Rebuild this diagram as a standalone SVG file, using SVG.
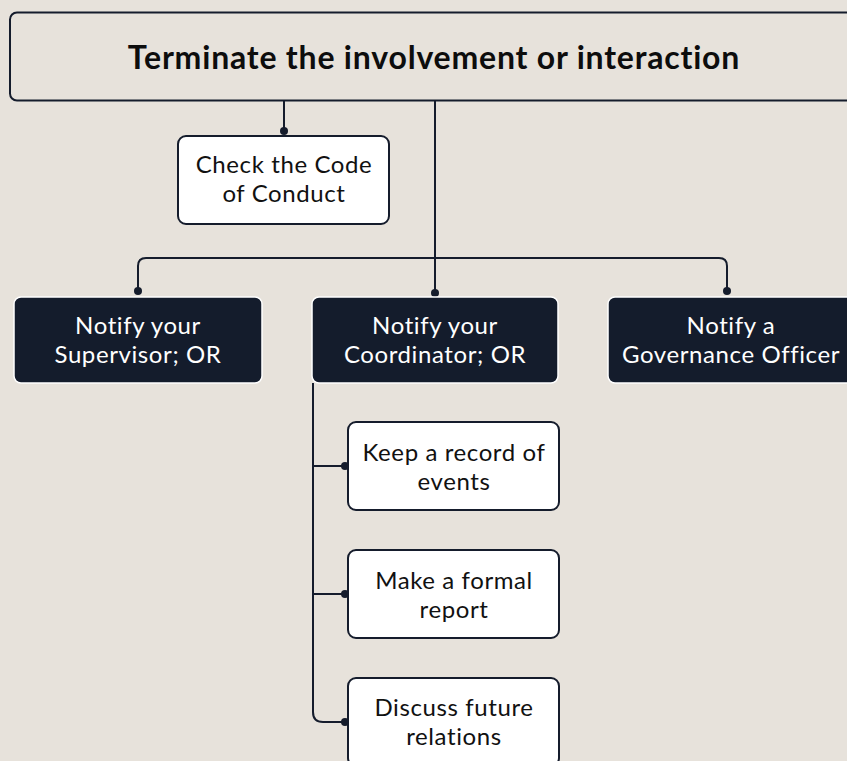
<svg xmlns="http://www.w3.org/2000/svg" width="847" height="761" viewBox="0 0 847 761">
<style>
.bg{fill:#e7e2db}
.light{fill:#ffffff;stroke:#151c2c;stroke-width:2}
.dark{fill:#141c2c;stroke:#ffffff;stroke-width:1.5}
.title{fill:none;stroke:#151c2c;stroke-width:2}
.t{font-family:Lato,"Open Sans",sans-serif;font-size:24px;letter-spacing:0.6px;text-anchor:middle;fill:#111111}
.tw{font-family:Lato,"Open Sans",sans-serif;font-size:24px;letter-spacing:0.6px;text-anchor:middle;fill:#ffffff}
.th{font-family:Lato,"Open Sans",sans-serif;font-size:32px;font-weight:700;letter-spacing:0.8px;text-anchor:middle;fill:#0d0d0d}
.c{fill:none;stroke:#151c2c;stroke-width:2}
.d{fill:#151c2c}
</style>
<rect class="bg" x="0" y="0" width="847" height="761"/>
<g id="connectors">
<path class="c" d="M284,101 V131"/>
<path class="c" d="M435,101 V293"/>
<path class="c" d="M138,291 V266 Q138,258 146,258 H719 Q727,258 727,266 V291"/>
<path class="c" d="M313,383 V712 Q313,722 323,722 H345"/>
<path class="c" d="M313,466 H345"/>
<path class="c" d="M313,594 H345"/>
<circle class="d" cx="284" cy="131" r="4"/>
<circle class="d" cx="138" cy="291" r="4"/>
<circle class="d" cx="435" cy="293" r="4"/>
<circle class="d" cx="727" cy="291" r="4"/>
<circle class="d" cx="345" cy="466" r="4"/>
<circle class="d" cx="345" cy="594" r="4"/>
<circle class="d" cx="345" cy="722" r="4"/>
</g>
<g id="terminate">
<rect class="title" x="10" y="12.5" width="847" height="88" rx="7"/>
<text class="th" x="434" y="69">Terminate the involvement or interaction</text>
</g>
<g id="check">
<rect class="light" x="178" y="136" width="211" height="88" rx="8"/>
<text class="t" x="284" y="173">Check the Code</text>
<text class="t" x="284" y="202">of Conduct</text>
</g>
<g id="supervisor">
<rect class="dark" x="14" y="297" width="248" height="86" rx="7"/>
<text class="tw" x="138" y="334">Notify your</text>
<text class="tw" x="138" y="363">Supervisor; OR</text>
</g>
<g id="coordinator">
<rect class="dark" x="312" y="297" width="246" height="86" rx="7"/>
<text class="tw" x="435" y="334">Notify your</text>
<text class="tw" x="435" y="363">Coordinator; OR</text>
</g>
<g id="governance">
<rect class="dark" x="608" y="297" width="246" height="86" rx="7"/>
<text class="tw" x="731" y="334">Notify a</text>
<text class="tw" x="731" y="363">Governance Officer</text>
</g>
<g id="record">
<rect class="light" x="348" y="422" width="211" height="88" rx="8"/>
<text class="t" x="454" y="461">Keep a record of</text>
<text class="t" x="454" y="490">events</text>
</g>
<g id="report">
<rect class="light" x="348" y="550" width="211" height="88" rx="8"/>
<text class="t" x="454" y="589">Make a formal</text>
<text class="t" x="454" y="618">report</text>
</g>
<g id="discuss">
<rect class="light" x="348" y="678" width="211" height="88" rx="8"/>
<text class="t" x="454" y="716">Discuss future</text>
<text class="t" x="454" y="745">relations</text>
</g>
</svg>
